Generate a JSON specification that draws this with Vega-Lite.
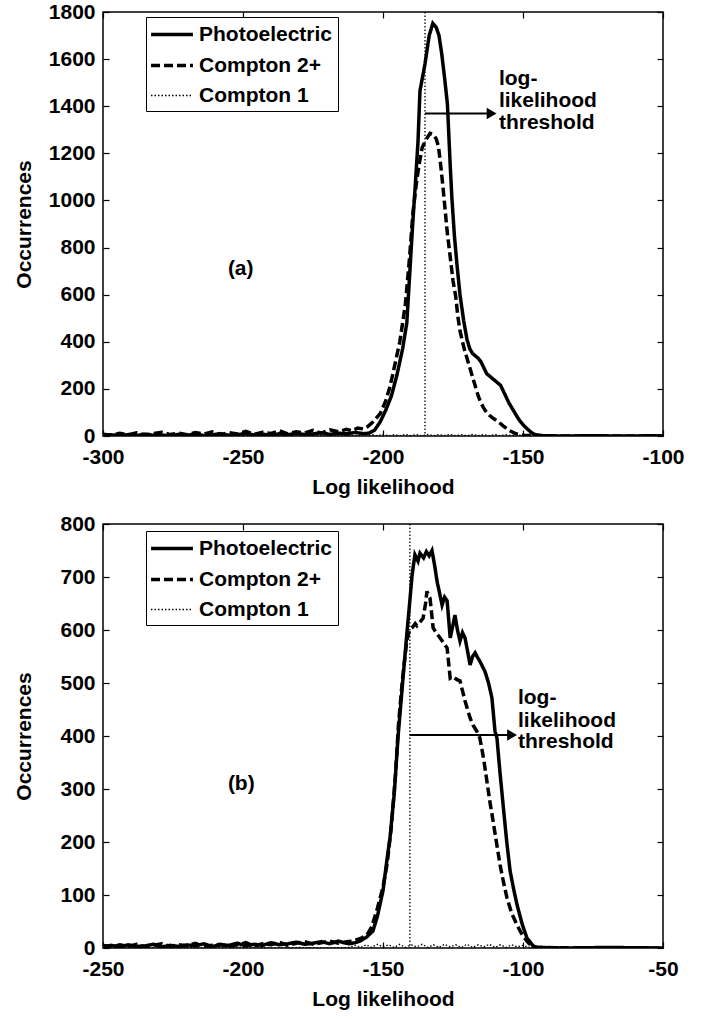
{
  "$schema": "https://vega.github.io/schema/vega-lite/v6.json",
  "background": "white",
  "padding": {"left": 12, "top": 0, "right": 5, "bottom": 5},
  "spacing": 14,
  "config": {
    "font": "Liberation Sans",
    "view": {"stroke": "black", "strokeWidth": 1.5},
    "axis": {
      "labelFontSize": 21, "labelFontWeight": "bold", "labelColor": "black",
      "titleFontSize": 21, "titleFontWeight": "bold", "titleColor": "black",
      "grid": false, "domain": false, "tickColor": "black", "tickWidth": 1.2,
      "tickSize": -6, "labelPadding": 16, "labelFlush": false, "labelExpr": "datum.value + ''"
    },
    "axisY": {"minExtent": 55, "maxExtent": 55, "titlePadding": 14, "labelPadding": 14},
    "axisX": {"titlePadding": 9},
    "legend": {
      "strokeColor": "black", "fillColor": "white", "padding": 5,
      "labelFontSize": 21, "labelFontWeight": "bold", "labelColor": "black",
      "symbolStrokeColor": "black", "rowPadding": 8
    }
  },
  "resolve": {"scale": {"strokeDash": "independent", "strokeWidth": "independent"}},
  "datasets": {
    "a": [
      {"x": -300, "n": 2, "s": "Photoelectric"}, {"x": -297, "n": 5, "s": "Photoelectric"}, {"x": -294, "n": 1, "s": "Photoelectric"}, {"x": -291, "n": 6, "s": "Photoelectric"}, {"x": -288, "n": 2, "s": "Photoelectric"}, {"x": -285, "n": 8, "s": "Photoelectric"}, {"x": -282, "n": 3, "s": "Photoelectric"}, {"x": -279, "n": 4, "s": "Photoelectric"}, {"x": -276, "n": 1, "s": "Photoelectric"}, {"x": -273, "n": 7, "s": "Photoelectric"}, {"x": -270, "n": 3, "s": "Photoelectric"}, {"x": -267, "n": 9, "s": "Photoelectric"}, {"x": -264, "n": 2, "s": "Photoelectric"}, {"x": -261, "n": 5, "s": "Photoelectric"}, {"x": -258, "n": 10, "s": "Photoelectric"}, {"x": -255, "n": 3, "s": "Photoelectric"}, {"x": -252, "n": 6, "s": "Photoelectric"}, {"x": -249, "n": 11, "s": "Photoelectric"}, {"x": -246, "n": 4, "s": "Photoelectric"}, {"x": -243, "n": 8, "s": "Photoelectric"}, {"x": -240, "n": 2, "s": "Photoelectric"}, {"x": -237, "n": 10, "s": "Photoelectric"}, {"x": -234, "n": 5, "s": "Photoelectric"}, {"x": -231, "n": 12, "s": "Photoelectric"}, {"x": -228, "n": 6, "s": "Photoelectric"}, {"x": -225, "n": 9, "s": "Photoelectric"}, {"x": -222, "n": 14, "s": "Photoelectric"}, {"x": -219, "n": 7, "s": "Photoelectric"}, {"x": -216, "n": 12, "s": "Photoelectric"}, {"x": -213, "n": 9, "s": "Photoelectric"}, {"x": -210, "n": 15, "s": "Photoelectric"}, {"x": -207, "n": 10, "s": "Photoelectric"}, {"x": -205, "n": 12, "s": "Photoelectric"}, {"x": -203, "n": 25, "s": "Photoelectric"}, {"x": -201, "n": 60, "s": "Photoelectric"}, {"x": -199, "n": 110, "s": "Photoelectric"}, {"x": -197, "n": 170, "s": "Photoelectric"}, {"x": -195, "n": 260, "s": "Photoelectric"}, {"x": -193, "n": 370, "s": "Photoelectric"}, {"x": -191.5, "n": 480, "s": "Photoelectric"}, {"x": -190.5, "n": 680, "s": "Photoelectric"}, {"x": -189.5, "n": 880, "s": "Photoelectric"}, {"x": -188.5, "n": 1060, "s": "Photoelectric"}, {"x": -187.5, "n": 1250, "s": "Photoelectric"}, {"x": -186.8, "n": 1465, "s": "Photoelectric"}, {"x": -185, "n": 1580, "s": "Photoelectric"}, {"x": -183.5, "n": 1700, "s": "Photoelectric"}, {"x": -182.2, "n": 1752, "s": "Photoelectric"}, {"x": -181, "n": 1735, "s": "Photoelectric"}, {"x": -180, "n": 1700, "s": "Photoelectric"}, {"x": -179, "n": 1620, "s": "Photoelectric"}, {"x": -178, "n": 1520, "s": "Photoelectric"}, {"x": -177, "n": 1410, "s": "Photoelectric"}, {"x": -176, "n": 1150, "s": "Photoelectric"}, {"x": -175.4, "n": 1011, "s": "Photoelectric"}, {"x": -174.5, "n": 850, "s": "Photoelectric"}, {"x": -173.6, "n": 730, "s": "Photoelectric"}, {"x": -172.5, "n": 600, "s": "Photoelectric"}, {"x": -171.2, "n": 490, "s": "Photoelectric"}, {"x": -170, "n": 410, "s": "Photoelectric"}, {"x": -169, "n": 370, "s": "Photoelectric"}, {"x": -168, "n": 350, "s": "Photoelectric"}, {"x": -167, "n": 340, "s": "Photoelectric"}, {"x": -166, "n": 330, "s": "Photoelectric"}, {"x": -165, "n": 315, "s": "Photoelectric"}, {"x": -164, "n": 290, "s": "Photoelectric"}, {"x": -163, "n": 265, "s": "Photoelectric"}, {"x": -162, "n": 255, "s": "Photoelectric"}, {"x": -161, "n": 245, "s": "Photoelectric"}, {"x": -160, "n": 235, "s": "Photoelectric"}, {"x": -159, "n": 225, "s": "Photoelectric"}, {"x": -158, "n": 215, "s": "Photoelectric"}, {"x": -157, "n": 190, "s": "Photoelectric"}, {"x": -156, "n": 165, "s": "Photoelectric"}, {"x": -155, "n": 140, "s": "Photoelectric"}, {"x": -154, "n": 120, "s": "Photoelectric"}, {"x": -153, "n": 100, "s": "Photoelectric"}, {"x": -152, "n": 80, "s": "Photoelectric"}, {"x": -151, "n": 62, "s": "Photoelectric"}, {"x": -150, "n": 48, "s": "Photoelectric"}, {"x": -149, "n": 36, "s": "Photoelectric"}, {"x": -148, "n": 25, "s": "Photoelectric"}, {"x": -147, "n": 15, "s": "Photoelectric"}, {"x": -146, "n": 8, "s": "Photoelectric"}, {"x": -145, "n": 4, "s": "Photoelectric"}, {"x": -144, "n": 2, "s": "Photoelectric"}, {"x": -142, "n": 1, "s": "Photoelectric"}, {"x": -135, "n": 0, "s": "Photoelectric"}, {"x": -125, "n": 1, "s": "Photoelectric"}, {"x": -115, "n": 0, "s": "Photoelectric"}, {"x": -100, "n": 1, "s": "Photoelectric"},

      {"x": -300, "n": 8, "s": "Compton 2+"}, {"x": -297, "n": 3, "s": "Compton 2+"}, {"x": -294, "n": 12, "s": "Compton 2+"}, {"x": -291, "n": 5, "s": "Compton 2+"}, {"x": -288, "n": 14, "s": "Compton 2+"}, {"x": -285, "n": 4, "s": "Compton 2+"}, {"x": -282, "n": 10, "s": "Compton 2+"}, {"x": -279, "n": 16, "s": "Compton 2+"}, {"x": -276, "n": 6, "s": "Compton 2+"}, {"x": -273, "n": 12, "s": "Compton 2+"}, {"x": -270, "n": 5, "s": "Compton 2+"}, {"x": -267, "n": 15, "s": "Compton 2+"}, {"x": -264, "n": 8, "s": "Compton 2+"}, {"x": -261, "n": 18, "s": "Compton 2+"}, {"x": -258, "n": 6, "s": "Compton 2+"}, {"x": -255, "n": 14, "s": "Compton 2+"}, {"x": -252, "n": 9, "s": "Compton 2+"}, {"x": -249, "n": 20, "s": "Compton 2+"}, {"x": -246, "n": 7, "s": "Compton 2+"}, {"x": -243, "n": 16, "s": "Compton 2+"}, {"x": -240, "n": 11, "s": "Compton 2+"}, {"x": -237, "n": 22, "s": "Compton 2+"}, {"x": -234, "n": 9, "s": "Compton 2+"}, {"x": -231, "n": 18, "s": "Compton 2+"}, {"x": -228, "n": 13, "s": "Compton 2+"}, {"x": -225, "n": 24, "s": "Compton 2+"}, {"x": -222, "n": 12, "s": "Compton 2+"}, {"x": -219, "n": 26, "s": "Compton 2+"}, {"x": -216, "n": 18, "s": "Compton 2+"}, {"x": -213, "n": 28, "s": "Compton 2+"}, {"x": -211, "n": 22, "s": "Compton 2+"}, {"x": -209, "n": 34, "s": "Compton 2+"}, {"x": -207, "n": 30, "s": "Compton 2+"}, {"x": -205.5, "n": 40, "s": "Compton 2+"}, {"x": -204, "n": 55, "s": "Compton 2+"}, {"x": -202.5, "n": 75, "s": "Compton 2+"}, {"x": -201, "n": 95, "s": "Compton 2+"}, {"x": -199, "n": 150, "s": "Compton 2+"}, {"x": -197.5, "n": 210, "s": "Compton 2+"}, {"x": -196, "n": 290, "s": "Compton 2+"}, {"x": -194, "n": 400, "s": "Compton 2+"}, {"x": -192, "n": 560, "s": "Compton 2+"}, {"x": -190.5, "n": 760, "s": "Compton 2+"}, {"x": -189.3, "n": 950, "s": "Compton 2+"}, {"x": -188, "n": 1080, "s": "Compton 2+"}, {"x": -187, "n": 1160, "s": "Compton 2+"}, {"x": -186, "n": 1225, "s": "Compton 2+"}, {"x": -185, "n": 1250, "s": "Compton 2+"}, {"x": -184, "n": 1270, "s": "Compton 2+"}, {"x": -183.2, "n": 1285, "s": "Compton 2+"}, {"x": -182, "n": 1280, "s": "Compton 2+"}, {"x": -181, "n": 1262, "s": "Compton 2+"}, {"x": -180.2, "n": 1230, "s": "Compton 2+"}, {"x": -179.4, "n": 1150, "s": "Compton 2+"}, {"x": -178.6, "n": 1060, "s": "Compton 2+"}, {"x": -177.1, "n": 870, "s": "Compton 2+"}, {"x": -176, "n": 760, "s": "Compton 2+"}, {"x": -175, "n": 660, "s": "Compton 2+"}, {"x": -174, "n": 590, "s": "Compton 2+"}, {"x": -173.3, "n": 510, "s": "Compton 2+"}, {"x": -172.5, "n": 446, "s": "Compton 2+"}, {"x": -171, "n": 370, "s": "Compton 2+"}, {"x": -170, "n": 330, "s": "Compton 2+"}, {"x": -169, "n": 290, "s": "Compton 2+"}, {"x": -168, "n": 250, "s": "Compton 2+"}, {"x": -167, "n": 210, "s": "Compton 2+"}, {"x": -166, "n": 170, "s": "Compton 2+"}, {"x": -165, "n": 140, "s": "Compton 2+"}, {"x": -164, "n": 118, "s": "Compton 2+"}, {"x": -163, "n": 100, "s": "Compton 2+"}, {"x": -162, "n": 88, "s": "Compton 2+"}, {"x": -161, "n": 78, "s": "Compton 2+"}, {"x": -160, "n": 70, "s": "Compton 2+"}, {"x": -159, "n": 62, "s": "Compton 2+"}, {"x": -158, "n": 52, "s": "Compton 2+"}, {"x": -157, "n": 42, "s": "Compton 2+"}, {"x": -156, "n": 33, "s": "Compton 2+"}, {"x": -155, "n": 24, "s": "Compton 2+"}, {"x": -154, "n": 18, "s": "Compton 2+"}, {"x": -153, "n": 12, "s": "Compton 2+"}, {"x": -152, "n": 8, "s": "Compton 2+"}, {"x": -151, "n": 5, "s": "Compton 2+"}, {"x": -150, "n": 3, "s": "Compton 2+"}, {"x": -148, "n": 2, "s": "Compton 2+"}, {"x": -146, "n": 5, "s": "Compton 2+"}, {"x": -145, "n": 3, "s": "Compton 2+"}, {"x": -143, "n": 1, "s": "Compton 2+"}, {"x": -130, "n": 0, "s": "Compton 2+"}, {"x": -100, "n": 0, "s": "Compton 2+"},

      {"x": -300, "n": 0, "s": "Compton 1"}, {"x": -290, "n": 2, "s": "Compton 1"}, {"x": -280, "n": 0, "s": "Compton 1"}, {"x": -270, "n": 3, "s": "Compton 1"}, {"x": -260, "n": 1, "s": "Compton 1"}, {"x": -250, "n": 2, "s": "Compton 1"}, {"x": -240, "n": 0, "s": "Compton 1"}, {"x": -230, "n": 3, "s": "Compton 1"}, {"x": -220, "n": 1, "s": "Compton 1"}, {"x": -210, "n": 2, "s": "Compton 1"}, {"x": -206, "n": 0, "s": "Compton 1"}, {"x": -204, "n": 6, "s": "Compton 1"}, {"x": -202, "n": 1, "s": "Compton 1"}, {"x": -200, "n": 7, "s": "Compton 1"}, {"x": -198, "n": 1, "s": "Compton 1"}, {"x": -196, "n": 6, "s": "Compton 1"}, {"x": -194, "n": 1, "s": "Compton 1"}, {"x": -192, "n": 7, "s": "Compton 1"}, {"x": -190, "n": 2, "s": "Compton 1"}, {"x": -188, "n": 6, "s": "Compton 1"}, {"x": -186, "n": 1, "s": "Compton 1"}, {"x": -184, "n": 7, "s": "Compton 1"}, {"x": -182, "n": 1, "s": "Compton 1"}, {"x": -180, "n": 6, "s": "Compton 1"}, {"x": -178, "n": 2, "s": "Compton 1"}, {"x": -176, "n": 7, "s": "Compton 1"}, {"x": -174, "n": 1, "s": "Compton 1"}, {"x": -172, "n": 6, "s": "Compton 1"}, {"x": -170, "n": 1, "s": "Compton 1"}, {"x": -168, "n": 7, "s": "Compton 1"}, {"x": -166, "n": 2, "s": "Compton 1"}, {"x": -164, "n": 6, "s": "Compton 1"}, {"x": -162, "n": 1, "s": "Compton 1"}, {"x": -160, "n": 7, "s": "Compton 1"}, {"x": -158, "n": 1, "s": "Compton 1"}, {"x": -156, "n": 6, "s": "Compton 1"}, {"x": -154, "n": 2, "s": "Compton 1"}, {"x": -152, "n": 6, "s": "Compton 1"}, {"x": -150, "n": 1, "s": "Compton 1"}, {"x": -148, "n": 5, "s": "Compton 1"}, {"x": -146, "n": 1, "s": "Compton 1"}, {"x": -144, "n": 4, "s": "Compton 1"}, {"x": -140, "n": 1, "s": "Compton 1"}, {"x": -130, "n": 0, "s": "Compton 1"}, {"x": -120, "n": 2, "s": "Compton 1"}, {"x": -110, "n": 0, "s": "Compton 1"}, {"x": -100, "n": 1, "s": "Compton 1"}
    ],
    "b": [
      {"x": -250, "n": 3, "s": "Photoelectric"}, {"x": -247, "n": 5, "s": "Photoelectric"}, {"x": -244, "n": 2, "s": "Photoelectric"}, {"x": -241, "n": 6, "s": "Photoelectric"}, {"x": -238, "n": 3, "s": "Photoelectric"}, {"x": -235, "n": 4, "s": "Photoelectric"}, {"x": -232, "n": 7, "s": "Photoelectric"}, {"x": -229, "n": 2, "s": "Photoelectric"}, {"x": -226, "n": 5, "s": "Photoelectric"}, {"x": -223, "n": 3, "s": "Photoelectric"}, {"x": -220, "n": 6, "s": "Photoelectric"}, {"x": -217, "n": 4, "s": "Photoelectric"}, {"x": -214, "n": 8, "s": "Photoelectric"}, {"x": -211, "n": 3, "s": "Photoelectric"}, {"x": -208, "n": 6, "s": "Photoelectric"}, {"x": -205, "n": 5, "s": "Photoelectric"}, {"x": -202, "n": 9, "s": "Photoelectric"}, {"x": -199, "n": 4, "s": "Photoelectric"}, {"x": -196, "n": 7, "s": "Photoelectric"}, {"x": -193, "n": 5, "s": "Photoelectric"}, {"x": -190, "n": 10, "s": "Photoelectric"}, {"x": -187, "n": 6, "s": "Photoelectric"}, {"x": -184, "n": 8, "s": "Photoelectric"}, {"x": -181, "n": 11, "s": "Photoelectric"}, {"x": -178, "n": 7, "s": "Photoelectric"}, {"x": -175, "n": 9, "s": "Photoelectric"}, {"x": -172, "n": 12, "s": "Photoelectric"}, {"x": -169, "n": 8, "s": "Photoelectric"}, {"x": -166, "n": 13, "s": "Photoelectric"}, {"x": -164, "n": 10, "s": "Photoelectric"}, {"x": -162, "n": 8, "s": "Photoelectric"}, {"x": -160, "n": 10, "s": "Photoelectric"}, {"x": -158.2, "n": 13, "s": "Photoelectric"}, {"x": -156, "n": 20, "s": "Photoelectric"}, {"x": -153.6, "n": 32, "s": "Photoelectric"}, {"x": -152, "n": 60, "s": "Photoelectric"}, {"x": -150, "n": 108, "s": "Photoelectric"}, {"x": -148.5, "n": 170, "s": "Photoelectric"}, {"x": -147.5, "n": 208, "s": "Photoelectric"}, {"x": -146, "n": 290, "s": "Photoelectric"}, {"x": -144.6, "n": 400, "s": "Photoelectric"}, {"x": -143, "n": 500, "s": "Photoelectric"}, {"x": -141.4, "n": 598, "s": "Photoelectric"}, {"x": -140.5, "n": 650, "s": "Photoelectric"}, {"x": -139.6, "n": 704, "s": "Photoelectric"}, {"x": -138.6, "n": 742, "s": "Photoelectric"}, {"x": -137.5, "n": 730, "s": "Photoelectric"}, {"x": -136.8, "n": 745, "s": "Photoelectric"}, {"x": -135.5, "n": 736, "s": "Photoelectric"}, {"x": -134.5, "n": 748, "s": "Photoelectric"}, {"x": -133.5, "n": 740, "s": "Photoelectric"}, {"x": -132.5, "n": 750, "s": "Photoelectric"}, {"x": -131.5, "n": 720, "s": "Photoelectric"}, {"x": -130.7, "n": 692, "s": "Photoelectric"}, {"x": -129.8, "n": 670, "s": "Photoelectric"}, {"x": -128.9, "n": 647, "s": "Photoelectric"}, {"x": -128, "n": 662, "s": "Photoelectric"}, {"x": -127.1, "n": 655, "s": "Photoelectric"}, {"x": -126, "n": 585, "s": "Photoelectric"}, {"x": -125, "n": 610, "s": "Photoelectric"}, {"x": -124.3, "n": 628, "s": "Photoelectric"}, {"x": -123.4, "n": 600, "s": "Photoelectric"}, {"x": -122.5, "n": 579, "s": "Photoelectric"}, {"x": -121.6, "n": 595, "s": "Photoelectric"}, {"x": -120.7, "n": 585, "s": "Photoelectric"}, {"x": -119.8, "n": 560, "s": "Photoelectric"}, {"x": -118.9, "n": 534, "s": "Photoelectric"}, {"x": -118, "n": 550, "s": "Photoelectric"}, {"x": -117.1, "n": 557, "s": "Photoelectric"}, {"x": -116.2, "n": 548, "s": "Photoelectric"}, {"x": -115.4, "n": 541, "s": "Photoelectric"}, {"x": -113.6, "n": 522, "s": "Photoelectric"}, {"x": -112.3, "n": 500, "s": "Photoelectric"}, {"x": -111.1, "n": 472, "s": "Photoelectric"}, {"x": -110, "n": 409, "s": "Photoelectric"}, {"x": -109.3, "n": 396, "s": "Photoelectric"}, {"x": -108.2, "n": 330, "s": "Photoelectric"}, {"x": -107.1, "n": 270, "s": "Photoelectric"}, {"x": -105.8, "n": 200, "s": "Photoelectric"}, {"x": -104.6, "n": 145, "s": "Photoelectric"}, {"x": -103.3, "n": 110, "s": "Photoelectric"}, {"x": -102.1, "n": 81, "s": "Photoelectric"}, {"x": -100.3, "n": 45, "s": "Photoelectric"}, {"x": -98.6, "n": 19, "s": "Photoelectric"}, {"x": -96.4, "n": 4, "s": "Photoelectric"}, {"x": -95, "n": 1, "s": "Photoelectric"}, {"x": -85, "n": 0, "s": "Photoelectric"}, {"x": -70, "n": 1, "s": "Photoelectric"}, {"x": -50, "n": 0, "s": "Photoelectric"},

      {"x": -250, "n": 5, "s": "Compton 2+"}, {"x": -247, "n": 2, "s": "Compton 2+"}, {"x": -244, "n": 6, "s": "Compton 2+"}, {"x": -241, "n": 3, "s": "Compton 2+"}, {"x": -238, "n": 7, "s": "Compton 2+"}, {"x": -235, "n": 2, "s": "Compton 2+"}, {"x": -232, "n": 5, "s": "Compton 2+"}, {"x": -229, "n": 8, "s": "Compton 2+"}, {"x": -226, "n": 3, "s": "Compton 2+"}, {"x": -223, "n": 6, "s": "Compton 2+"}, {"x": -220, "n": 4, "s": "Compton 2+"}, {"x": -217, "n": 9, "s": "Compton 2+"}, {"x": -214, "n": 3, "s": "Compton 2+"}, {"x": -211, "n": 5, "s": "Compton 2+"}, {"x": -208, "n": 7, "s": "Compton 2+"}, {"x": -205, "n": 3, "s": "Compton 2+"}, {"x": -202, "n": 6, "s": "Compton 2+"}, {"x": -199, "n": 10, "s": "Compton 2+"}, {"x": -196, "n": 4, "s": "Compton 2+"}, {"x": -193, "n": 8, "s": "Compton 2+"}, {"x": -190, "n": 6, "s": "Compton 2+"}, {"x": -187, "n": 11, "s": "Compton 2+"}, {"x": -184, "n": 5, "s": "Compton 2+"}, {"x": -181, "n": 9, "s": "Compton 2+"}, {"x": -178, "n": 12, "s": "Compton 2+"}, {"x": -175, "n": 7, "s": "Compton 2+"}, {"x": -172, "n": 10, "s": "Compton 2+"}, {"x": -169, "n": 13, "s": "Compton 2+"}, {"x": -166, "n": 9, "s": "Compton 2+"}, {"x": -163, "n": 12, "s": "Compton 2+"}, {"x": -160.7, "n": 13, "s": "Compton 2+"}, {"x": -158, "n": 18, "s": "Compton 2+"}, {"x": -155.7, "n": 25, "s": "Compton 2+"}, {"x": -154, "n": 40, "s": "Compton 2+"}, {"x": -152, "n": 75, "s": "Compton 2+"}, {"x": -150, "n": 115, "s": "Compton 2+"}, {"x": -148.5, "n": 160, "s": "Compton 2+"}, {"x": -147, "n": 230, "s": "Compton 2+"}, {"x": -145.5, "n": 330, "s": "Compton 2+"}, {"x": -144.5, "n": 420, "s": "Compton 2+"}, {"x": -143, "n": 510, "s": "Compton 2+"}, {"x": -141.5, "n": 580, "s": "Compton 2+"}, {"x": -140.5, "n": 600, "s": "Compton 2+"}, {"x": -139.6, "n": 604, "s": "Compton 2+"}, {"x": -138.5, "n": 612, "s": "Compton 2+"}, {"x": -137.9, "n": 608, "s": "Compton 2+"}, {"x": -136.8, "n": 615, "s": "Compton 2+"}, {"x": -135.7, "n": 622, "s": "Compton 2+"}, {"x": -134.8, "n": 650, "s": "Compton 2+"}, {"x": -134.3, "n": 673, "s": "Compton 2+"}, {"x": -133.7, "n": 665, "s": "Compton 2+"}, {"x": -133.2, "n": 660, "s": "Compton 2+"}, {"x": -132.1, "n": 604, "s": "Compton 2+"}, {"x": -131, "n": 595, "s": "Compton 2+"}, {"x": -129.6, "n": 585, "s": "Compton 2+"}, {"x": -128.3, "n": 575, "s": "Compton 2+"}, {"x": -127.1, "n": 566, "s": "Compton 2+"}, {"x": -126, "n": 509, "s": "Compton 2+"}, {"x": -125, "n": 512, "s": "Compton 2+"}, {"x": -124.3, "n": 509, "s": "Compton 2+"}, {"x": -123.4, "n": 506, "s": "Compton 2+"}, {"x": -122.5, "n": 504, "s": "Compton 2+"}, {"x": -121.6, "n": 485, "s": "Compton 2+"}, {"x": -120.7, "n": 466, "s": "Compton 2+"}, {"x": -119.8, "n": 450, "s": "Compton 2+"}, {"x": -118.9, "n": 434, "s": "Compton 2+"}, {"x": -117.9, "n": 421, "s": "Compton 2+"}, {"x": -116.6, "n": 410, "s": "Compton 2+"}, {"x": -115.4, "n": 396, "s": "Compton 2+"}, {"x": -114, "n": 355, "s": "Compton 2+"}, {"x": -112.9, "n": 315, "s": "Compton 2+"}, {"x": -111.8, "n": 275, "s": "Compton 2+"}, {"x": -110.7, "n": 240, "s": "Compton 2+"}, {"x": -109.5, "n": 200, "s": "Compton 2+"}, {"x": -108.2, "n": 157, "s": "Compton 2+"}, {"x": -107, "n": 125, "s": "Compton 2+"}, {"x": -105.7, "n": 94, "s": "Compton 2+"}, {"x": -104, "n": 65, "s": "Compton 2+"}, {"x": -102.1, "n": 43, "s": "Compton 2+"}, {"x": -100.3, "n": 25, "s": "Compton 2+"}, {"x": -98.6, "n": 13, "s": "Compton 2+"}, {"x": -97, "n": 4, "s": "Compton 2+"}, {"x": -95, "n": 1, "s": "Compton 2+"}, {"x": -80, "n": 0, "s": "Compton 2+"}, {"x": -50, "n": 0, "s": "Compton 2+"},

      {"x": -250, "n": 0, "s": "Compton 1"}, {"x": -240, "n": 2, "s": "Compton 1"}, {"x": -230, "n": 0, "s": "Compton 1"}, {"x": -220, "n": 1, "s": "Compton 1"}, {"x": -210, "n": 0, "s": "Compton 1"}, {"x": -200, "n": 2, "s": "Compton 1"}, {"x": -190, "n": 0, "s": "Compton 1"}, {"x": -180, "n": 1, "s": "Compton 1"}, {"x": -170, "n": 0, "s": "Compton 1"}, {"x": -162, "n": 1, "s": "Compton 1"}, {"x": -160, "n": 5, "s": "Compton 1"}, {"x": -158, "n": 1, "s": "Compton 1"}, {"x": -156, "n": 6, "s": "Compton 1"}, {"x": -154, "n": 1, "s": "Compton 1"}, {"x": -152, "n": 7, "s": "Compton 1"}, {"x": -150, "n": 2, "s": "Compton 1"}, {"x": -148, "n": 6, "s": "Compton 1"}, {"x": -146, "n": 1, "s": "Compton 1"}, {"x": -144, "n": 7, "s": "Compton 1"}, {"x": -142, "n": 1, "s": "Compton 1"}, {"x": -140, "n": 6, "s": "Compton 1"}, {"x": -138, "n": 2, "s": "Compton 1"}, {"x": -136, "n": 7, "s": "Compton 1"}, {"x": -134, "n": 1, "s": "Compton 1"}, {"x": -132, "n": 6, "s": "Compton 1"}, {"x": -130, "n": 1, "s": "Compton 1"}, {"x": -128, "n": 7, "s": "Compton 1"}, {"x": -126, "n": 2, "s": "Compton 1"}, {"x": -124, "n": 6, "s": "Compton 1"}, {"x": -122, "n": 1, "s": "Compton 1"}, {"x": -120, "n": 7, "s": "Compton 1"}, {"x": -118, "n": 1, "s": "Compton 1"}, {"x": -116, "n": 6, "s": "Compton 1"}, {"x": -114, "n": 2, "s": "Compton 1"}, {"x": -112, "n": 7, "s": "Compton 1"}, {"x": -110, "n": 1, "s": "Compton 1"}, {"x": -108, "n": 6, "s": "Compton 1"}, {"x": -106, "n": 1, "s": "Compton 1"}, {"x": -104, "n": 6, "s": "Compton 1"}, {"x": -102, "n": 2, "s": "Compton 1"}, {"x": -100, "n": 5, "s": "Compton 1"}, {"x": -98, "n": 1, "s": "Compton 1"}, {"x": -96, "n": 3, "s": "Compton 1"}, {"x": -90, "n": 0, "s": "Compton 1"}, {"x": -75, "n": 1, "s": "Compton 1"}, {"x": -60, "n": 0, "s": "Compton 1"}, {"x": -50, "n": 1, "s": "Compton 1"}
    ]
  },
  "vconcat": [
    {
      "width": 560, "height": 424,
      "layer": [
        {
          "data": {"name": "a"},
          "mark": {"type": "line", "color": "black", "clip": true},
          "encoding": {
            "x": {"field": "x", "type": "quantitative", "scale": {"domain": [-300, -100], "nice": false, "zero": false, "padding": 0},
                  "axis": {"orient": "bottom", "title": "Log likelihood", "values": [-300, -250, -200, -150, -100]}},
            "y": {"field": "n", "type": "quantitative", "scale": {"domain": [0, 1800], "nice": false, "padding": 0},
                  "axis": {"orient": "left", "title": "Occurrences", "values": [0, 200, 400, 600, 800, 1000, 1200, 1400, 1600, 1800]}},
            "strokeDash": {"field": "s", "type": "nominal",
              "scale": {"domain": ["Photoelectric", "Compton 2+", "Compton 1"], "range": [[1, 0], [9, 4], [1.5, 2]]},
              "legend": {"title": null, "orient": "none", "legendX": 43, "legendY": 5, "symbolType": "M-2,0H2", "symbolSize": 441, "symbolOffset": 8.5, "labelOffset": 14.5}},
            "strokeWidth": {"field": "s", "type": "nominal",
              "scale": {"type": "ordinal", "domain": ["Photoelectric", "Compton 2+", "Compton 1"], "range": [3.5, 3.5, 1.3]},
              "legend": {"title": null, "orient": "none", "legendX": 43, "legendY": 5, "symbolType": "M-2,0H2", "symbolSize": 441, "symbolOffset": 8.5, "labelOffset": 14.5}}
          }
        },
        {
          "data": {"values": [{"x": -185}]},
          "mark": {"type": "rule", "color": "black", "strokeWidth": 1.3, "strokeDash": [1.5, 2]},
          "encoding": {
            "x": {"field": "x", "type": "quantitative", "scale": {"domain": [-300, -100], "nice": false, "zero": false, "padding": 0},
                  "axis": {"orient": "top", "labels": false, "title": null, "values": [-300, -250, -200, -150, -100]}}
          }
        },
        {
          "data": {"values": [{"x": -185, "x2": -161.2, "y": 1369}]},
          "mark": {"type": "rule", "color": "black", "strokeWidth": 2},
          "encoding": {
            "x": {"field": "x", "type": "quantitative", "scale": {"domain": [-300, -100], "nice": false, "zero": false, "padding": 0}, "axis": null},
            "x2": {"field": "x2"},
            "y": {"field": "y", "type": "quantitative", "scale": {"domain": [0, 1800], "nice": false, "padding": 0},
                  "axis": {"orient": "right", "labels": false, "title": null, "values": [0, 200, 400, 600, 800, 1000, 1200, 1400, 1600, 1800]}}
          }
        },
        {
          "data": {"values": [{"x": -161.2, "y": 1369}]},
          "mark": {"type": "point", "shape": "triangle-right", "filled": true, "color": "black", "size": 130, "opacity": 1},
          "encoding": {
            "x": {"field": "x", "type": "quantitative", "scale": {"domain": [-300, -100], "nice": false, "zero": false, "padding": 0}, "axis": null},
            "y": {"field": "y", "type": "quantitative", "scale": {"domain": [0, 1800], "nice": false, "padding": 0}, "axis": null}
          }
        },
        {
          "data": {"values": [{"x": -158.6, "y": 1516, "t": "log-"}, {"x": -158.6, "y": 1422, "t": "likelihood"}, {"x": -158.6, "y": 1327, "t": "threshold"}, {"x": -255.4, "y": 709, "t": "(a)"}]},
          "mark": {"type": "text", "align": "left", "baseline": "middle", "fontSize": 21, "fontWeight": "bold", "color": "black"},
          "encoding": {
            "x": {"field": "x", "type": "quantitative", "scale": {"domain": [-300, -100], "nice": false, "zero": false, "padding": 0}, "axis": null},
            "y": {"field": "y", "type": "quantitative", "scale": {"domain": [0, 1800], "nice": false, "padding": 0}, "axis": null},
            "text": {"field": "t"}
          }
        }
      ]
    },
    {
      "width": 560, "height": 424,
      "layer": [
        {
          "data": {"name": "b"},
          "mark": {"type": "line", "color": "black", "clip": true},
          "encoding": {
            "x": {"field": "x", "type": "quantitative", "scale": {"domain": [-250, -50], "nice": false, "zero": false, "padding": 0},
                  "axis": {"orient": "bottom", "title": "Log likelihood", "values": [-250, -200, -150, -100, -50]}},
            "y": {"field": "n", "type": "quantitative", "scale": {"domain": [0, 800], "nice": false, "padding": 0},
                  "axis": {"orient": "left", "title": "Occurrences", "values": [0, 100, 200, 300, 400, 500, 600, 700, 800]}},
            "strokeDash": {"field": "s", "type": "nominal",
              "scale": {"domain": ["Photoelectric", "Compton 2+", "Compton 1"], "range": [[1, 0], [9, 4], [1.5, 2]]},
              "legend": {"title": null, "orient": "none", "legendX": 43, "legendY": 7, "symbolType": "M-2,0H2", "symbolSize": 441, "symbolOffset": 8.5, "labelOffset": 14.5}},
            "strokeWidth": {"field": "s", "type": "nominal",
              "scale": {"type": "ordinal", "domain": ["Photoelectric", "Compton 2+", "Compton 1"], "range": [3.5, 3.5, 1.3]},
              "legend": {"title": null, "orient": "none", "legendX": 43, "legendY": 7, "symbolType": "M-2,0H2", "symbolSize": 441, "symbolOffset": 8.5, "labelOffset": 14.5}}
          }
        },
        {
          "data": {"values": [{"x": -140.4}]},
          "mark": {"type": "rule", "color": "black", "strokeWidth": 1.3, "strokeDash": [1.5, 2]},
          "encoding": {
            "x": {"field": "x", "type": "quantitative", "scale": {"domain": [-250, -50], "nice": false, "zero": false, "padding": 0},
                  "axis": {"orient": "top", "labels": false, "title": null, "values": [-250, -200, -150, -100, -50]}}
          }
        },
        {
          "data": {"values": [{"x": -140.4, "x2": -103.9, "y": 402}]},
          "mark": {"type": "rule", "color": "black", "strokeWidth": 2},
          "encoding": {
            "x": {"field": "x", "type": "quantitative", "scale": {"domain": [-250, -50], "nice": false, "zero": false, "padding": 0}, "axis": null},
            "x2": {"field": "x2"},
            "y": {"field": "y", "type": "quantitative", "scale": {"domain": [0, 800], "nice": false, "padding": 0},
                  "axis": {"orient": "right", "labels": false, "title": null, "values": [0, 100, 200, 300, 400, 500, 600, 700, 800]}}
          }
        },
        {
          "data": {"values": [{"x": -103.9, "y": 402}]},
          "mark": {"type": "point", "shape": "triangle-right", "filled": true, "color": "black", "size": 130, "opacity": 1},
          "encoding": {
            "x": {"field": "x", "type": "quantitative", "scale": {"domain": [-250, -50], "nice": false, "zero": false, "padding": 0}, "axis": null},
            "y": {"field": "y", "type": "quantitative", "scale": {"domain": [0, 800], "nice": false, "padding": 0}, "axis": null}
          }
        },
        {
          "data": {"values": [{"x": -101.8, "y": 471, "t": "log-"}, {"x": -101.8, "y": 429, "t": "likelihood"}, {"x": -101.8, "y": 388, "t": "threshold"}, {"x": -205.4, "y": 309, "t": "(b)"}]},
          "mark": {"type": "text", "align": "left", "baseline": "middle", "fontSize": 21, "fontWeight": "bold", "color": "black"},
          "encoding": {
            "x": {"field": "x", "type": "quantitative", "scale": {"domain": [-250, -50], "nice": false, "zero": false, "padding": 0}, "axis": null},
            "y": {"field": "y", "type": "quantitative", "scale": {"domain": [0, 800], "nice": false, "padding": 0}, "axis": null},
            "text": {"field": "t"}
          }
        }
      ]
    }
  ]
}
